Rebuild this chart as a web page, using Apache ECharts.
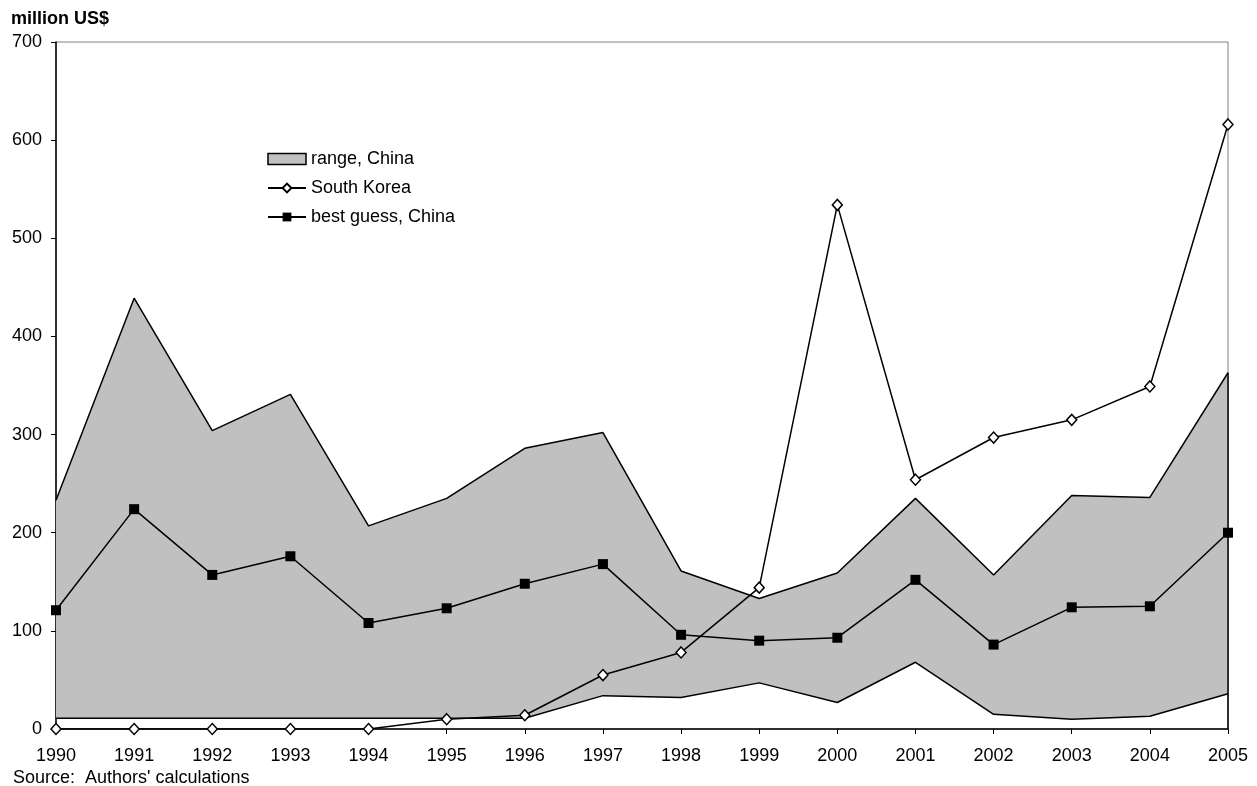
<!DOCTYPE html>
<html>
<head>
<meta charset="utf-8">
<script src="https://cdn.jsdelivr.net/npm/echarts@6/dist/echarts.min.js"></script>
<style>
html,body{margin:0;padding:0;background:#fff;}
#chart{width:1257px;height:786px;}
</style>
</head>
<body>
<div id="chart"></div>
<script>
const years = ['1990','1991','1992','1993','1994','1995','1996','1997','1998','1999','2000','2001','2002','2003','2004','2005'];
const rangeUpperChina = [233, 439, 304, 341, 207, 235, 286, 302, 161, 133, 159, 235, 157, 238, 236, 363];
const rangeLowerChina = [11, 11, 11, 11, 11, 11, 11, 34, 32, 47, 27, 68, 15, 10, 13, 36];
const southKorea = [0, 0, 0, 0, 0, 10, 14, 55, 78, 144, 534, 254, 297, 315, 349, 616];
const bestGuessChina = [121, 224, 157, 176, 108, 123, 148, 168, 96, 90, 93, 152, 86, 124, 125, 200];
const yTicks = [0, 100, 200, 300, 400, 500, 600, 700];

const rangeDiff = rangeUpperChina.map((v, i) => v - rangeLowerChina[i]);
const FONT = 'Liberation Sans, Arial, sans-serif';

const chart = echarts.init(document.getElementById('chart'));
chart.setOption({
  animation: false,
  backgroundColor: '#ffffff',
  textStyle: { fontFamily: FONT },
  title: [
    { text: 'million US$', left: 11, top: 10, padding: 0, textStyle: { fontFamily: FONT, fontSize: 18, fontWeight: 'bold', color: '#000' } },
    { text: "Source:  Authors' calculations", left: 13, top: 769, padding: 0, textStyle: { fontFamily: FONT, fontSize: 18, fontWeight: 'normal', color: '#000' } }
  ],
  legend: {
    orient: 'vertical',
    left: 267,
    top: 150,
    padding: 0,
    itemGap: 11,
    itemWidth: 38,
    itemHeight: 11,
    textStyle: { fontFamily: FONT, fontSize: 18, color: '#000' },
    data: [
      { name: 'range, China', icon: 'rect', itemStyle: { color: '#c0c0c0', borderColor: '#000', borderWidth: 1.5 } },
      { name: 'South Korea' },
      { name: 'best guess, China' }
    ]
  },
  grid: {
    left: 56, right: 29, top: 42, bottom: 57,
    show: true, borderColor: '#808080', borderWidth: 1, backgroundColor: 'transparent'
  },
  xAxis: {
    type: 'category',
    data: years,
    boundaryGap: false,
    axisLine: { show: true, lineStyle: { color: '#000', width: 1.5 } },
    axisTick: { show: true, alignWithLabel: true, length: 5, lineStyle: { color: '#000' } },
    axisLabel: { fontFamily: FONT, fontSize: 18, color: '#000', margin: 18 },
    splitLine: { show: false }
  },
  yAxis: {
    type: 'value',
    min: yTicks[0],
    max: yTicks[yTicks.length - 1],
    interval: 100,
    axisLine: { show: true, lineStyle: { color: '#000', width: 1.5 } },
    axisTick: { show: true, length: 5, lineStyle: { color: '#000' } },
    axisLabel: { fontFamily: FONT, fontSize: 18, color: '#000', margin: 14 },
    splitLine: { show: false }
  },
  series: [
    {
      name: 'lowerBase',
      type: 'line',
      stack: 'range',
      data: rangeLowerChina,
      symbol: 'none',
      lineStyle: { color: '#000', width: 1.5 },
      itemStyle: { color: '#000' },
      z: 2,
      silent: true
    },
    {
      name: 'range, China',
      type: 'line',
      stack: 'range',
      data: rangeDiff,
      symbol: 'none',
      lineStyle: { color: '#000', width: 1.5 },
      itemStyle: { color: '#c0c0c0' },
      areaStyle: { color: '#c0c0c0', opacity: 1 },
      z: 2,
      markLine: {
        silent: true,
        symbol: 'none',
        label: { show: false },
        lineStyle: { color: '#000', width: 1.5, type: 'solid' },
        data: [[
          { coord: [years[years.length - 1], 0] },
          { coord: [years[years.length - 1], rangeUpperChina[rangeUpperChina.length - 1]] }
        ]]
      }
    },
    {
      name: 'South Korea',
      type: 'line',
      data: southKorea,
      symbol: 'diamond',
      symbolSize: [10, 11],
      showAllSymbol: true,
      lineStyle: { color: '#000', width: 1.5 },
      itemStyle: { color: '#fff', borderColor: '#000', borderWidth: 1.5 },
      z: 4
    },
    {
      name: 'best guess, China',
      type: 'line',
      data: bestGuessChina,
      symbol: 'rect',
      symbolSize: 10,
      showAllSymbol: true,
      lineStyle: { color: '#000', width: 1.5 },
      itemStyle: { color: '#000', borderColor: '#000', borderWidth: 0 },
      z: 5
    }
  ]
});
</script>
</body>
</html>
